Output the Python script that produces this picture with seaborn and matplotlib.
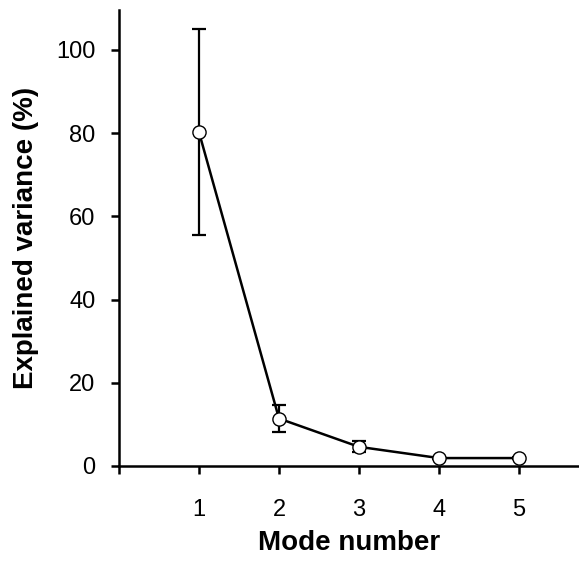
import matplotlib
matplotlib.use("Agg")
import matplotlib.pyplot as plt
import seaborn as sns
import pandas as pd

modes = [1, 2, 3, 4, 5]
variance = [80.2, 11.4, 4.6, 1.9, 1.9]
errors = [24.8, 3.3, 1.3, 0.3, 0.3]
x_ticks = [0, 1, 2, 3, 4, 5]
x_tick_labels = ["", "1", "2", "3", "4", "5"]
y_ticks = [0, 20, 40, 60, 80, 100]

sns.set_theme(style="ticks")
plt.rcParams['font.family'] = ['Liberation Sans', 'DejaVu Sans']
plt.rcParams['text.color'] = 'black'
plt.rcParams['axes.labelcolor'] = 'black'

fig = plt.figure(figsize=(5.79, 5.70), dpi=100)
ax = fig.add_axes([0.2055, 0.1825, 0.7945, 0.7995])

df = pd.DataFrame({"mode": modes, "var": variance})
ax.errorbar(modes, variance, yerr=errors, fmt='none', ecolor='black',
            elinewidth=1.6, capsize=5, capthick=1.6, zorder=2)
sns.lineplot(data=df, x="mode", y="var", ax=ax, color='black', linewidth=1.8,
             marker='o', markersize=9.5, markerfacecolor='white',
             markeredgecolor='black', markeredgewidth=1.0, zorder=3)

ax.set_xlim(0, 5.75)
ax.set_ylim(0, 109.5)
ax.set_xticks(x_ticks)
ax.set_xticklabels(x_tick_labels)
ax.set_yticks(y_ticks)
sns.despine(ax=ax)
for s in ['left', 'bottom']:
    ax.spines[s].set_linewidth(1.8)
    ax.spines[s].set_color('black')
ax.tick_params(axis='both', direction='out', length=6, width=1.8, colors='black',
               labelsize=17)
ax.tick_params(axis='x', pad=18)
ax.tick_params(axis='y', pad=11)
ax.set_xlabel("Mode number", fontsize=20, fontweight='bold', labelpad=6)
ax.set_ylabel("Explained variance (%)", fontsize=20, fontweight='bold', labelpad=12)
ax.grid(False)

fig.savefig("out.png", dpi=100)
